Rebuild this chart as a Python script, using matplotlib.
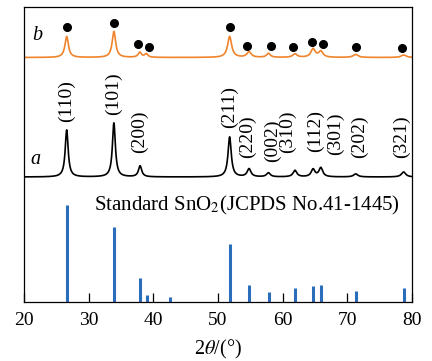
import matplotlib

matplotlib.use("Agg")
import matplotlib.pyplot as plt
import numpy as np

# standard SnO2 pattern (JCPDS 41-1445): 2theta and relative intensity
std_pos = [26.61, 33.89, 37.95, 38.97, 42.64, 51.78, 54.76, 57.82, 61.87, 64.72, 65.94, 71.28, 78.71]
std_int = [100, 77, 25, 7, 5, 60, 17.5, 10, 14.5, 16.5, 18, 11, 14]

# sample a (black): peak positions, heights, widths
a_pos = [26.6, 33.9, 37.95, 51.8, 54.8, 57.8, 61.9, 64.7, 65.9, 71.3, 78.7]
a_height = [47, 54, 11, 40, 8, 4, 6.5, 7.5, 9, 3, 5]
a_fwhm = [0.55, 0.55, 0.6, 0.6, 0.7, 0.7, 0.7, 0.7, 0.7, 0.8, 0.8]
a_base = 125

# sample b (orange)
b_pos = [26.6, 33.9, 37.9, 38.9, 51.8, 54.8, 57.8, 61.9, 64.7, 65.9, 71.3, 78.7]
b_height = [21, 26, 5, 3.5, 21, 5.5, 4, 3.5, 8.5, 6, 3, 2.5]
b_fwhm = [0.65, 0.65, 0.6, 0.6, 0.75, 0.8, 0.7, 0.8, 0.8, 0.8, 0.9, 0.9]
b_base = 244.5

# filled dots above the b peaks
dot_x = [26.6, 33.9, 37.7, 39.3, 51.8, 54.5, 58.2, 61.6, 64.6, 66.2, 71.4, 78.5]
dot_y = [275.3, 279.3, 257.7, 255.3, 274.7, 256.3, 256.3, 254.7, 260, 258, 254.7, 253.7]

# hkl labels for curve a
hkl = ["(110)", "(101)", "(200)", "(211)", "(220)", "(002)", "(310)", "(112)", "(301)", "(202)", "(321)"]
hkl_x = [26.5, 33.9, 37.9, 51.7, 54.6, 58.4, 60.7, 65.1, 68.1, 71.9, 78.4]
hkl_y = [180.3, 187, 149, 174, 144, 140.3, 149, 150.3, 147, 144, 144]

plt.rcParams["font.family"] = ["Liberation Serif", "DejaVu Serif"]
plt.rcParams["mathtext.fontset"] = "stix"


def profile(x, pos, height, fwhm, base):
    y = np.full_like(x, base, dtype=float)
    for p, h, w in zip(pos, height, fwhm):
        g = (w / 2) ** 2
        y += h * g / ((x - p) ** 2 + g)
    return y


x = np.linspace(20, 80, 3000)

fig = plt.figure(figsize=(4.32, 3.61), dpi=100)
ax = fig.add_axes([24 / 432, 1 - 302 / 361, 388 / 432, 295 / 361])

ax.vlines(std_pos, 0, [v * 0.97 for v in std_int], color="#2a6ebb", lw=2.2)
ax.plot(x, profile(x, a_pos, a_height, a_fwhm, a_base), color="black", lw=1.2)
ax.plot(x, profile(x, b_pos, b_height, b_fwhm, b_base), color="#f0842c", lw=1.2)
ax.plot(dot_x, dot_y, "o", color="black", ms=5.5, mec="black")

for lab, lx, ly in zip(hkl, hkl_x, hkl_y):
    ax.text(lx, ly, lab, rotation=90, ha="center", va="bottom", fontsize=14)

ax.text(21.7, 142, "a", style="italic", fontsize=14.5, ha="center", va="center")
ax.text(22.0, 267, "b", style="italic", fontsize=14.5, ha="center", va="center")
ax.text(30.9, 97, "Standard SnO$_2$(JCPDS No.41-1445)", fontsize=15, ha="left", va="center")

ax.set_xlim(20, 80)
ax.set_ylim(0, 295)
ax.set_xticks([20, 30, 40, 50, 60, 70, 80])
ax.set_yticks([])
ax.tick_params(axis="x", direction="in", length=6.3, width=0.9, labelsize=14, pad=7)
for s in ax.spines.values():
    s.set_linewidth(0.9)
ax.set_xlabel(r"2$\theta$/(°)", fontsize=14.5, labelpad=7)

fig.savefig("out.png", dpi=100, facecolor="white")
